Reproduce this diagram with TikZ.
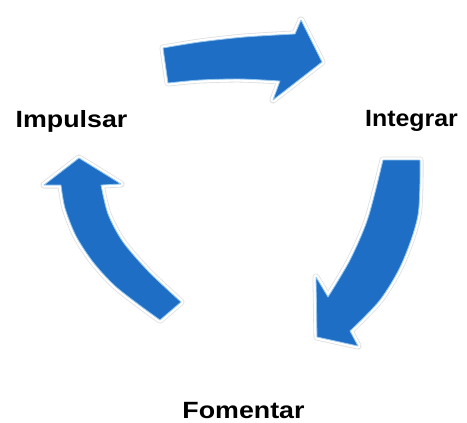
\documentclass[tikz,border=0pt]{standalone}
\usepackage{fontspec}
\setmainfont{Liberation Sans}
\definecolor{arrowblue}{RGB}{31,110,197}
\definecolor{glowblue}{RGB}{150,200,240}
\begin{document}
\begin{tikzpicture}[x=1pt,y=-1pt,
  cyc/.style={fill=arrowblue, draw=glowblue, line width=0.8pt, line join=round,
    preaction={draw=gray!25, line width=7pt, line join=round},
    preaction={draw=white, line width=5.4pt, line join=round}},
  lbl/.style={font=\bfseries\fontsize{23.5}{26}\selectfont, anchor=base, inner sep=0pt, xscale=1.14}]
\useasboundingbox (0,0) rectangle (467,423);
% top arrow (Impulsar -> Integrar)
\path[cyc] (163,48) -- plot[smooth] coordinates {(163,48) (200,42) (245,37) (295,34)}
  -- (301,20) -- (322,62) -- (273,100) -- (280,81)
  -- plot[smooth] coordinates {(280,81) (240,79) (200,80) (168,83)} -- cycle;
% right arrow (Integrar -> Fomentar)
\path[cyc] (383,160) -- (420,160)
  -- plot[smooth] coordinates {(420,160) (418,215) (402,263) (380,300) (350,331)}
  -- (358,346) -- (317,337) -- (316,277) -- (328,297)
  -- plot[smooth] coordinates {(328,297) (350,260) (368,218) (383,160)} -- cycle;
% left arrow (Fomentar -> Impulsar)
\path[cyc] (160,320) -- plot[smooth] coordinates {(160,320) (138,304) (114,285) (93,262) (76,236) (65,208) (61,185)}
  -- (44,185) -- (79,158) -- (121,184) -- (101,185)
  -- plot[smooth] coordinates {(101,185) (108,214) (123,242) (149,272) (181,302)} -- cycle;
% labels
\node[lbl] (imp) at (71.5,127) {Impulsar};
\node[lbl, xscale=0.93] (int) at (411.5,126) {Integrar};
\node[lbl] (fom) at (243.5,418) {Fomentar};
\end{tikzpicture}
\end{document}
